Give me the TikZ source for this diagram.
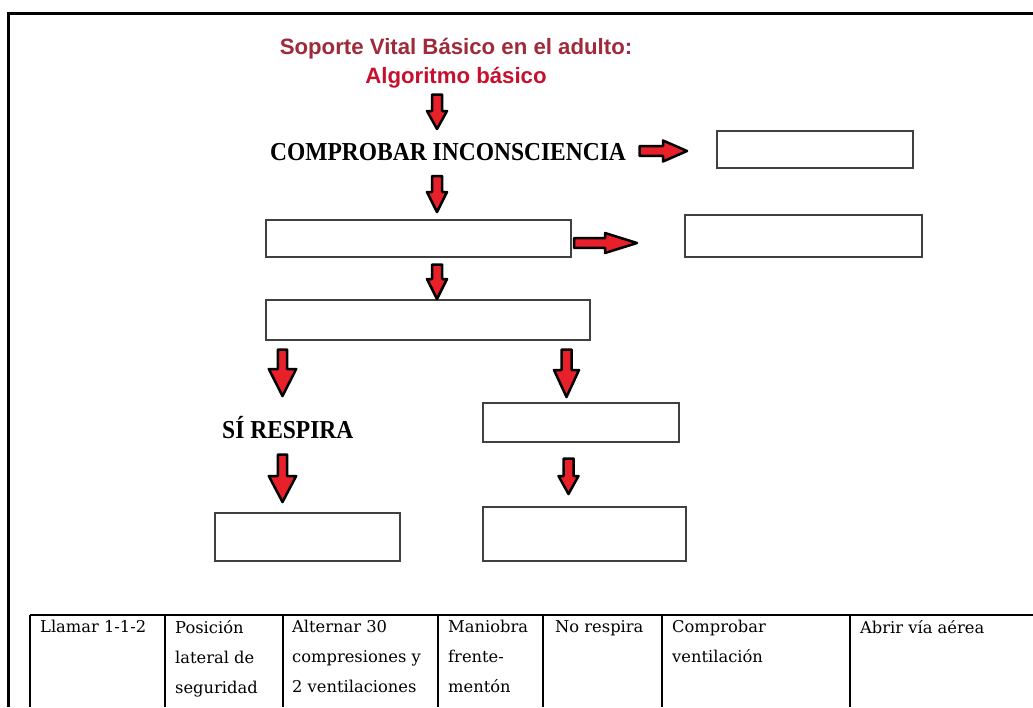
\documentclass[tikz,border=0pt]{standalone}
\usepackage{fontspec}
\setmainfont{Liberation Serif}
\newfontfamily\titlefont{Liberation Sans}
\newfontfamily\tabfont{DejaVu Serif}
\definecolor{titlered}{HTML}{9E2A3A}
\definecolor{algred}{HTML}{C8102E}
\definecolor{arrred}{HTML}{E8202A}
\definecolor{boxline}{HTML}{404040}
\tikzset{
  blockarrow/.style={fill=arrred,draw=black,line width=2.5pt,line join=round},
  emptybox/.style={draw=boxline,line width=1.1pt,fill=white},
  bigtext/.style={font=\fontsize{23.5}{26}\selectfont\bfseries,inner sep=0pt},
  celltext/.style={font=\tabfont\fontsize{16.3}{30}\selectfont,anchor=north west,inner sep=0pt,align=left},
  tabline/.style={draw=black,line width=1.2pt},
  titletext/.style={font=\titlefont\bfseries\fontsize{22.2}{24}\selectfont,inner sep=0pt},
}
% down arrow: cx, ytop, ytip, shaft half width, head half width, head start y
\newcommand\dnarrow[6]{%
  \draw[blockarrow] ({#1-#4},#2) -- ({#1+#4},#2) -- ({#1+#4},#6) -- ({#1+#5},#6)
    -- (#1,#3) -- ({#1-#5},#6) -- ({#1-#4},#6) -- cycle;}
% right arrow: xstart, cy, xtip, shaft half, head half, head start x
\newcommand\rtarrow[6]{%
  \draw[blockarrow] (#1,{#2-#4}) -- (#6,{#2-#4}) -- (#6,{#2-#5}) -- (#3,#2)
    -- (#6,{#2+#5}) -- (#6,{#2+#4}) -- (#1,{#2+#4}) -- cycle;}
\begin{document}
\begin{tikzpicture}[x=1pt,y=-1pt]
\useasboundingbox (0,0) rectangle (1033,707);
\fill[white] (0,0) rectangle (1033,707);
% outer frame
\draw[line width=3pt] (8.5,707) -- (8.5,13) -- (1033,13);

% title
\node[titletext,text=titlered] (t1) at (456,49) {Soporte Vital Básico en el adulto:};
\node[titletext,text=algred] (t2) at (456,78) {Algoritmo básico};

% main texts
\node[bigtext,anchor=west] (comp) at (270,152) {\scalebox{1}[1.1]{COMPROBAR INCONSCIENCIA}};
\node[bigtext,anchor=west] (si) at (222,428) {\scalebox{1}[1.1]{SÍ RESPIRA}};

% boxes
\node[emptybox,minimum width=196,minimum height=37,inner sep=0pt] (b1) at (815,149.5) {};
\node[emptybox,minimum width=305,minimum height=37,inner sep=0pt] (b2) at (418.5,238.5) {};
\node[emptybox,minimum width=237,minimum height=42,inner sep=0pt] (b3) at (803.5,236) {};
\node[emptybox,minimum width=324,minimum height=40,inner sep=0pt] (b4) at (428,320) {};
\node[emptybox,minimum width=196,minimum height=39,inner sep=0pt] (b5) at (581,422.5) {};
\node[emptybox,minimum width=185,minimum height=48,inner sep=0pt] (b6) at (307.5,537) {};
\node[emptybox,minimum width=203,minimum height=54,inner sep=0pt] (b7) at (584.5,534) {};

% arrows
\dnarrow{437}{94.5}{129}{5}{10}{111}
\rtarrow{639.5}{151}{687}{4.8}{10.5}{663}
\dnarrow{437}{176}{212}{5}{10}{192}
\rtarrow{574}{243}{637}{4.8}{10}{605}
\dnarrow{437}{264.5}{299}{5}{10}{279}
\dnarrow{282.5}{349.5}{396}{4.6}{13.7}{369}
\dnarrow{566.5}{349.5}{397}{5}{12.5}{370}
\dnarrow{282.5}{454.5}{502}{4.6}{13.7}{476}
\dnarrow{568.5}{458.5}{494}{5}{10}{476}

% table
\draw[tabline] (30,615) -- (1033,615);
\foreach \xx in {30,165,283,438,543,662,850}{
  \draw[tabline] (\xx,615) -- (\xx,707);
}
\node[celltext] (c1) at (40,620) {Llamar 1-1-2};
\node[celltext] (c2) at (175,620) {Posición\\lateral de\\seguridad};
\node[celltext] (c3) at (292,620) {Alternar 30\\compresiones y\\2 ventilaciones};
\node[celltext] (c4) at (448,620) {Maniobra\\frente-\\mentón};
\node[celltext] (c5) at (555,620) {No respira};
\node[celltext] (c6) at (672,620) {Comprobar\\ventilación};
\node[celltext] (c7) at (860,620) {Abrir vía aérea};
\end{tikzpicture}
\end{document}
